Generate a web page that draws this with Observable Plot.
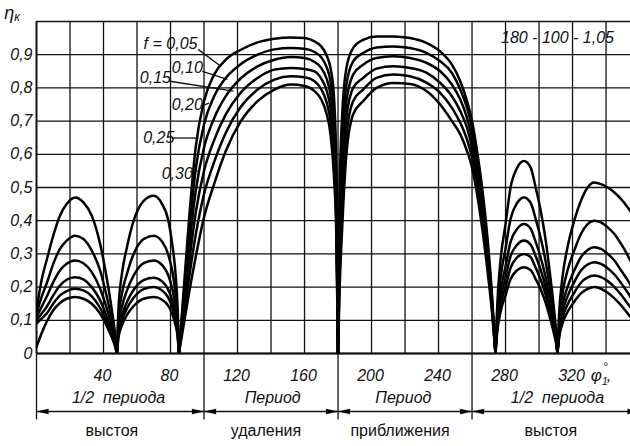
<!DOCTYPE html>
<html><head><meta charset="utf-8">
<script src="https://cdn.jsdelivr.net/npm/d3@7"></script>
<script src="https://cdn.jsdelivr.net/npm/@observablehq/plot@0.6"></script>
<style>
body{margin:0;background:#fff;}
#chart{width:630px;height:446px;overflow:hidden;}
#chart svg{overflow:hidden;}
</style></head><body><div id="chart"></div>
<script>
// ---- data ----
const fLabels = ["0,05","0,10","0,15","0,20","0,25","0,30"];

// left "1/2 периода выстоя", first arch
const phiA = [0, 3, 6, 10, 14, 18, 23, 28, 33, 38, 42, 45, 47, 48];
const etaA = [
 [0.13, 0.22, 0.28, 0.355, 0.415, 0.45, 0.47, 0.455, 0.415, 0.33, 0.225, 0.13, 0.055, 0],
 [0.12, 0.17, 0.21, 0.27, 0.315, 0.34, 0.355, 0.345, 0.31, 0.25, 0.17, 0.10, 0.045, 0],
 [0.11, 0.14, 0.17, 0.215, 0.25, 0.27, 0.28, 0.272, 0.245, 0.195, 0.135, 0.08, 0.035, 0],
 [0.10, 0.12, 0.14, 0.175, 0.205, 0.222, 0.23, 0.223, 0.2, 0.16, 0.11, 0.065, 0.028, 0],
 [0.09, 0.105, 0.12, 0.15, 0.175, 0.188, 0.195, 0.19, 0.172, 0.137, 0.094, 0.055, 0.024, 0],
 [0.02, 0.06, 0.095, 0.13, 0.152, 0.165, 0.17, 0.165, 0.15, 0.12, 0.082, 0.048, 0.02, 0]
];
// second arch
const phiB = [48, 49, 51, 54, 58, 64, 70, 75, 78.5, 81, 83, 84.3, 85];
const etaB = [
 [0, 0.14, 0.24, 0.32, 0.40, 0.46, 0.475, 0.45, 0.405, 0.33, 0.24, 0.13, 0],
 [0, 0.105, 0.18, 0.24, 0.30, 0.345, 0.355, 0.337, 0.30, 0.25, 0.18, 0.10, 0],
 [0, 0.085, 0.14, 0.19, 0.235, 0.272, 0.28, 0.266, 0.238, 0.196, 0.14, 0.078, 0],
 [0, 0.07, 0.114, 0.155, 0.192, 0.221, 0.228, 0.217, 0.194, 0.16, 0.114, 0.064, 0],
 [0, 0.06, 0.1, 0.136, 0.168, 0.194, 0.2, 0.19, 0.17, 0.14, 0.1, 0.056, 0],
 [0, 0.05, 0.085, 0.116, 0.143, 0.165, 0.17, 0.162, 0.145, 0.12, 0.085, 0.048, 0]
];
// "Период удаления"
const phiC = [85, 88, 91, 95, 100, 106, 113, 122, 132, 142, 152, 160, 166, 170, 173, 175.5, 177.5, 179, 180];
const etaC = [
 [0, 0.2, 0.4, 0.62, 0.76, 0.84, 0.885, 0.915, 0.937, 0.948, 0.952, 0.95, 0.94, 0.925, 0.9, 0.86, 0.78, 0.56, 0],
 [0, 0.178, 0.356, 0.554, 0.69, 0.774, 0.83, 0.872, 0.9, 0.916, 0.92, 0.918, 0.908, 0.892, 0.865, 0.82, 0.73, 0.52, 0],
 [0, 0.156, 0.312, 0.488, 0.62, 0.708, 0.775, 0.829, 0.865, 0.885, 0.893, 0.89, 0.878, 0.86, 0.83, 0.78, 0.685, 0.48, 0],
 [0, 0.134, 0.268, 0.422, 0.55, 0.642, 0.72, 0.786, 0.83, 0.855, 0.86, 0.857, 0.85, 0.828, 0.795, 0.74, 0.635, 0.44, 0],
 [0, 0.112, 0.224, 0.356, 0.48, 0.576, 0.665, 0.743, 0.795, 0.825, 0.835, 0.832, 0.82, 0.796, 0.76, 0.7, 0.59, 0.395, 0],
 [0, 0.09, 0.18, 0.29, 0.41, 0.51, 0.61, 0.7, 0.76, 0.795, 0.81, 0.806, 0.79, 0.765, 0.725, 0.66, 0.54, 0.35, 0]
];
// "Период приближения"
const phiD = [180, 181, 182.5, 185, 189, 195, 203, 213, 223, 233, 241, 248, 253, 257, 260, 263, 266, 269, 272, 274];
const etaD = [
 [0, 0.5, 0.72, 0.86, 0.92, 0.945, 0.955, 0.955, 0.95, 0.935, 0.91, 0.87, 0.82, 0.76, 0.7, 0.61, 0.5, 0.36, 0.17, 0],
 [0, 0.44, 0.65, 0.81, 0.88, 0.905, 0.922, 0.925, 0.92, 0.905, 0.88, 0.845, 0.795, 0.74, 0.68, 0.585, 0.48, 0.34, 0.16, 0],
 [0, 0.38, 0.585, 0.76, 0.84, 0.87, 0.89, 0.895, 0.89, 0.875, 0.85, 0.81, 0.765, 0.71, 0.65, 0.56, 0.46, 0.32, 0.15, 0],
 [0, 0.32, 0.52, 0.71, 0.8, 0.83, 0.858, 0.865, 0.86, 0.845, 0.815, 0.775, 0.73, 0.68, 0.62, 0.535, 0.43, 0.3, 0.14, 0],
 [0, 0.26, 0.45, 0.655, 0.76, 0.795, 0.83, 0.84, 0.835, 0.815, 0.785, 0.74, 0.695, 0.645, 0.59, 0.51, 0.405, 0.28, 0.13, 0],
 [0, 0.2, 0.38, 0.6, 0.72, 0.76, 0.8, 0.815, 0.812, 0.79, 0.75, 0.70, 0.66, 0.61, 0.56, 0.48, 0.38, 0.26, 0.12, 0]
];
// right "1/2 периода выстоя", first arch
const phiE = [274, 275, 277, 280, 283, 287, 291, 295, 298, 301, 304, 307, 309, 310.3, 311];
const etaE = [
 [0, 0.14, 0.28, 0.39, 0.5, 0.56, 0.58, 0.56, 0.5, 0.43, 0.34, 0.22, 0.13, 0.06, 0],
 [0, 0.113, 0.227, 0.316, 0.405, 0.454, 0.47, 0.454, 0.405, 0.348, 0.275, 0.178, 0.105, 0.049, 0],
 [0, 0.094, 0.188, 0.262, 0.336, 0.376, 0.39, 0.376, 0.336, 0.289, 0.228, 0.148, 0.087, 0.04, 0],
 [0, 0.082, 0.164, 0.229, 0.293, 0.328, 0.34, 0.328, 0.293, 0.252, 0.199, 0.129, 0.076, 0.035, 0],
 [0, 0.072, 0.145, 0.2, 0.258, 0.29, 0.3, 0.29, 0.258, 0.222, 0.176, 0.114, 0.067, 0.031, 0],
 [0, 0.063, 0.125, 0.175, 0.224, 0.251, 0.26, 0.251, 0.224, 0.193, 0.152, 0.099, 0.058, 0.027, 0]
];
// second arch
const phiF = [311, 312, 314, 317, 321, 325, 329, 333, 337, 341, 345, 349, 353, 357, 360];
const etaF = [
 [0, 0.12, 0.23, 0.32, 0.4, 0.46, 0.5, 0.515, 0.51, 0.5, 0.485, 0.465, 0.44, 0.41, 0.39],
 [0, 0.09, 0.18, 0.25, 0.31, 0.36, 0.39, 0.40, 0.395, 0.38, 0.36, 0.33, 0.295, 0.255, 0.23],
 [0, 0.075, 0.145, 0.2, 0.25, 0.29, 0.312, 0.32, 0.315, 0.3, 0.28, 0.25, 0.22, 0.185, 0.16],
 [0, 0.065, 0.125, 0.172, 0.215, 0.25, 0.268, 0.275, 0.27, 0.257, 0.238, 0.212, 0.183, 0.152, 0.13],
 [0, 0.055, 0.107, 0.147, 0.183, 0.213, 0.229, 0.235, 0.23, 0.218, 0.2, 0.177, 0.15, 0.122, 0.1],
 [0, 0.047, 0.091, 0.125, 0.156, 0.181, 0.195, 0.2, 0.195, 0.183, 0.166, 0.145, 0.12, 0.095, 0.075]
];

// ticks / grid
const xGrid = [0,20,40,60,80,100,120,140,160,180,200,220,240,260,280,300,320,340,360];
const xTickLabels = [40,80,120,160,200,240,280,320];
const yGrid = [0,0.1,0.2,0.3,0.4,0.5,0.6,0.7,0.8,0.9,1.0];
const yTickLabels = ["0","0,1","0,2","0,3","0,4","0,5","0,6","0,7","0,8","0,9"];

// curve labels
const curveLabelText = ["f = 0,05","0,10","0,15","0,20","0,25","0,30"];
const curveLabelPhi = [80, 90, 71, 90, 73, 84];
const curveLabelEta = [0.934, 0.859, 0.829, 0.748, 0.649, 0.541];
const leaderPhi1 = [96.5, 99, 79.5, 98, 81, 91.5];
const leaderEta1 = [0.916, 0.85, 0.82, 0.745, 0.649, 0.547];
const leaderPhi2 = [110, 114, 117.6, 103, 96.7, 96.7];
const leaderEta2 = [0.865, 0.826, 0.79, 0.754, 0.649, 0.55];

// bottom section annotations
const sectionBounds = [0, 100, 180, 260, 360];
const sectionTop = ["1/2  периода", "Период", "Период", "1/2  периода"];
const sectionBottom = ["выстоя", "удаления", "приближения", "выстоя"];
const sectionTopPhi = [49, 141, 219, 311];
const sectionBottomPhi = [45, 137, 217, 307];

const cornerNote = "180 - 100 - 1,05";

// ---- build table ----
const rows = [];
function addSeg(name, phis, etas) {
  etas.forEach((vals, i) => vals.forEach((v, j) =>
    rows.push({f: fLabels[i], seg: name, phi: phis[j], eta: v})));
}
addSeg("A", phiA, etaA); addSeg("B", phiB, etaB); addSeg("C", phiC, etaC);
addSeg("D", phiD, etaD); addSeg("E", phiE, etaE); addSeg("F", phiF, etaF);

const idx = fLabels.map((_, i) => i);
const sections = sectionTop.map((t, i) => ({a: sectionBounds[i], b: sectionBounds[i+1], top: t, bottom: sectionBottom[i], pt: sectionTopPhi[i], pb: sectionBottomPhi[i]}));

const FONT = "Liberation Sans, Arial, sans-serif";
const ink = "#111";

const chart = Plot.plot({
  width: 630, height: 446,
  marginLeft: 36, marginRight: 0, marginTop: 21, marginBottom: 93,
  x: {domain: [0, 354.6], axis: null},
  y: {domain: [0, 1], axis: null},
  style: {fontFamily: FONT, background: "#fff"},
  marks: [
    Plot.ruleX(xGrid, {x: d => d, y1: 0, y2: 1, stroke: ink, strokeWidth: 1.3}),
    Plot.ruleY(yGrid, {y: d => d, x1: 0, x2: 360, stroke: ink, strokeWidth: 1.3}),
    Plot.ruleY([0], {y: d => d, x1: 0, x2: 360, stroke: ink, strokeWidth: 2}),
    Plot.ruleX([0], {x: d => d, y1: 0, y2: 1, stroke: ink, strokeWidth: 1.8}),
    Plot.line(rows, {x: "phi", y: "eta", z: d => d.f + "|" + d.seg, curve: "monotone-x",
      stroke: "#000", strokeWidth: 2.5, clip: true}),
    // y tick labels
    Plot.text(yTickLabels, {x: 0, y: (d, i) => yGrid[i], text: d => d, textAnchor: "end", dx: -4,
      fontSize: 16, fontStyle: "italic", fill: ink}),
    // x tick labels
    Plot.text(xTickLabels, {x: d => d, y: 0, text: d => String(d), dy: 22, dx: -1,
      fontSize: 16, fontStyle: "italic", fill: ink}),
    // section separators
    Plot.ruleX(sectionBounds.slice(0, 4), {x: d => d, y1: 0, y2: -0.2, stroke: ink, strokeWidth: 1.3}),
    Plot.text(sections, {x: "pt", y: 0, text: "top", dy: 44, fontSize: 16, fontStyle: "italic", fill: ink}),
    Plot.text(sections, {x: "pb", y: 0, text: "bottom", dy: 77, fontSize: 16, fill: ink}),
    Plot.link(sections, {x1: "a", x2: "b", y1: 0, y2: 0, dy: 58, stroke: ink, strokeWidth: 1.3}),
    Plot.vector(sections, {x: "b", y: 0, dy: 58, dx: -1, length: 11, rotate: 90, shape: "spike", anchor: "end", r: 2.4, fill: "#000", stroke: "#000", strokeWidth: 0.5}),
    Plot.vector(sections, {x: "a", y: 0, dy: 58, dx: 1, length: 11, rotate: -90, shape: "spike", anchor: "end", r: 2.4, fill: "#000", stroke: "#000", strokeWidth: 0.5}),
    // curve labels
    Plot.link(idx, {x1: i => leaderPhi1[i], y1: i => leaderEta1[i], x2: i => leaderPhi2[i], y2: i => leaderEta2[i], stroke: ink, strokeWidth: 1.3}),
    Plot.text(idx, {x: i => curveLabelPhi[i], y: i => curveLabelEta[i], text: i => curveLabelText[i],
      fontSize: 16, fontStyle: "italic", fill: ink}),
    // corner note
    Plot.text([cornerNote], {x: 311, y: 0.952, text: d => d, fontSize: 16, fontStyle: "italic", fill: ink})
  ]
});
document.getElementById("chart").appendChild(chart);

// axis titles with sub/superscripts
const svg = d3.select(chart);
const yt = svg.append("text").attr("x", 12).attr("y", 19)
  .attr("font-family", FONT).attr("font-style", "italic").attr("fill", ink);
yt.append("tspan").attr("font-size", 18).text("η");
yt.append("tspan").attr("font-size", 12).attr("dy", 2).text("к");
const xt = svg.append("text").attr("x", 601).attr("y", 381)
  .attr("font-family", FONT).attr("font-style", "italic").attr("fill", ink);
xt.append("tspan").attr("font-size", 17).text("φ");
xt.append("tspan").attr("font-size", 11).attr("dy", 4).text("1");
xt.append("tspan").attr("font-size", 12).attr("dx", -5).attr("dy", -14).text("°");
xt.append("tspan").attr("font-size", 16).attr("dx", -1).attr("dy", 10).text(",");
</script></body></html>
